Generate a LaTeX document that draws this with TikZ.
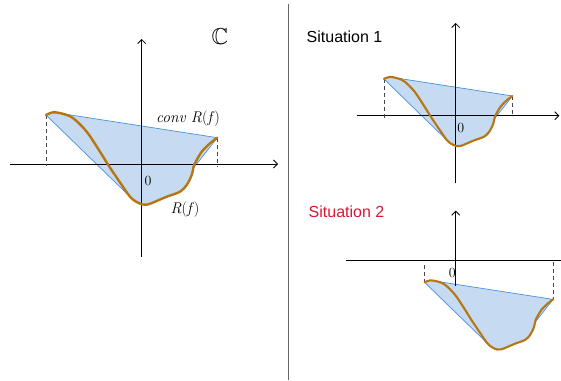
\documentclass[tikz,border=0pt]{standalone}
\usepackage{amssymb}
\usepackage{graphicx}
\usepackage{fontspec}
\newfontfamily\sitfont{Liberation Sans}
\usetikzlibrary{arrows.meta}
\definecolor{hullfill}{RGB}{198,218,242}
\definecolor{hullline}{RGB}{70,145,225}
\definecolor{curvebrown}{RGB}{182,118,18}
\definecolor{sitred}{RGB}{218,22,50}
\definecolor{dashgray}{RGB}{70,70,70}
\tikzset{
  axis/.style={line width=0.8pt, black, -{Straight Barb[length=4pt,width=8pt]}},
  plainaxis/.style={line width=0.8pt, black},
  hull/.style={fill=hullfill, draw=hullline, line width=0.7pt, line join=round},
  curve/.style={draw=curvebrown, line width=2.4pt, line cap=round, line join=round},
  dashline/.style={draw=dashgray, line width=0.8pt, dash pattern=on 4pt off 3pt},
  sitlabel/.style={anchor=west, font=\sitfont\fontsize{16}{19}\selectfont, inner sep=0pt},
  numlabel/.style={font=\fontsize{14}{16}\selectfont, inner sep=0pt},
  fnlabel/.style={font=\fontsize{15.5}{18}\selectfont, inner sep=0pt},
  divider/.style={draw=gray!80!black, line width=1pt}
}
\newcommand{\hullpath}{(-95.7,-49) -- (-88.4,-51.7) -- (75.6,-26.3) -- (51.6,4.3) -- (50,11) -- (45,21) -- (38.3,27.7) -- (25,32.7) -- (13.3,37.7) -- (6.6,41) -- (0,40.3) -- (-8.4,36) -- (-11.7,32.7) -- cycle}
\newcommand{\curvepath}{plot[smooth, tension=0.55] coordinates {(-95.7,-49) (-88.4,-51.7) (-78,-50) (-68.4,-45.7) (-55,-32.3) (-41.7,-12.3) (-33.4,1) (-22,18) (-11.7,32.7) (-5,38) (1,40.5) (6.6,40.3) (13.3,37.7) (25,32.7) (38.3,27.7) (45,21) (50,11) (52.3,1) (55,-4) (60,-12.3) (68.3,-20.7) (75.6,-26.3)}}
\begin{document}
\begin{tikzpicture}[x=1pt,y=-1pt]
\useasboundingbox (0,0) rectangle (561,380);
% divider
\draw[divider] (288,4) -- (288,380);

% ---------------- left panel ----------------
\coordinate (O) at (141.7,164);
\begin{scope}[shift={(O)}]
  \fill[hull] \hullpath;
\end{scope}
\draw[axis] (10,164) -- (278,164);
\draw[axis] (141.7,257) -- (141.7,39);
\draw[dashline] (46,115) -- (46,166);
\draw[dashline] (217.3,137.7) -- (217.3,166);
\begin{scope}[shift={(O)}]
  \draw[curve] \curvepath;
\end{scope}
\node[numlabel] (z0) at (148,180.5) {0};
\node[fnlabel] (conv) at (188,119) {\textit{conv R}(\textit{f\/})};
\node[fnlabel] (rf) at (185,210) {\textit{R}(\textit{f\/})};
\node[inner sep=0pt] (CC) at (220,37) {\scalebox{2.3}{$\mathbb{C}$}};

% ---------------- situation 1 ----------------
\node[sitlabel] (s1) at (306.5,37) {Situation 1};
\coordinate (O1) at (455.7,115.7);
\begin{scope}[shift={(O1)}, scale=0.75]
  \fill[hull] \hullpath;
\end{scope}
\draw[axis] (356.7,115.7) -- (559.3,115.7);
\draw[axis] (455.7,183) -- (455.7,23);
\draw[dashline] (384.3,78.8) -- (384.3,118);
\draw[dashline] (512.4,96) -- (512.4,117);
\begin{scope}[shift={(O1)}, scale=0.75]
  \draw[curve, line width=2.1pt] \curvepath;
\end{scope}
\node[numlabel] (z1) at (460.7,127.7) {0};

% ---------------- situation 2 ----------------
\node[sitlabel, text=sitred] (s2) at (308.5,211.5) {Situation 2};
\coordinate (O2) at (496.4,319.1);
\draw[plainaxis] (346,260.7) -- (561,260.7);
\draw[dashline] (424.6,265) -- (424.6,282.3);
\draw[dashline] (553.1,262) -- (553.1,299.4);
\begin{scope}[shift={(O2)}, scale=0.75]
  \fill[hull] \hullpath;
\end{scope}
\draw[axis] (455.7,286) -- (455.7,210.7);
\begin{scope}[shift={(O2)}, scale=0.75]
  \draw[curve, line width=2.1pt] \curvepath;
\end{scope}
\node[numlabel] (z2) at (452.3,272.7) {0};
\end{tikzpicture}
\end{document}
